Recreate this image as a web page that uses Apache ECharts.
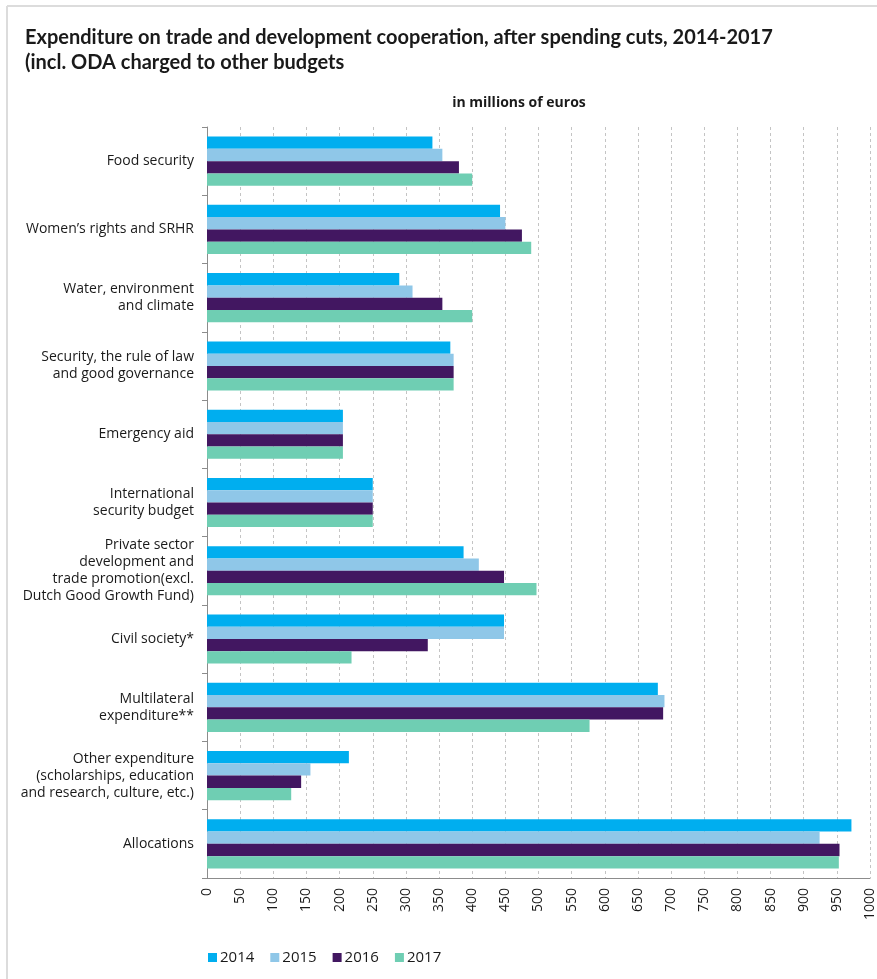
<!DOCTYPE html>
<html>
<head>
<meta charset="utf-8">
<script src="https://cdn.jsdelivr.net/npm/echarts@6/dist/echarts.min.js"></script>
<style>
html,body{margin:0;padding:0;background:#fff;}
#chart{width:877px;height:979px;}
</style>
</head>
<body>
<div id="chart"></div>
<script>
const categories = [
  "Food security",
  "Women\u2019s rights and SRHR",
  "Water, environment\nand climate",
  "Security, the rule of law\nand good governance",
  "Emergency aid",
  "International\nsecurity budget",
  "Private sector\ndevelopment and\ntrade promotion(excl.\nDutch Good Growth Fund)",
  "Civil society*",
  "Multilateral\nexpenditure**",
  "Other expenditure\n(scholarships, education\nand research, culture, etc.)",
  "Allocations"
];
const years = ["2014", "2015", "2016", "2017"];
const values2014 = [340, 442, 290, 367, 205, 250, 387, 448, 680, 214, 972];
const values2015 = [355, 450, 310, 372, 205, 250, 410, 448, 690, 156, 924];
const values2016 = [380, 475, 355, 372, 205, 250, 448, 333, 688, 142, 954];
const values2017 = [400, 489, 400, 372, 205, 250, 497, 218, 577, 127, 953];
const xTicks = [0, 1000, 50];
const colors = ["#00AEEF", "#8FC7E8", "#421761", "#6FCEB3"];

const seriesData = [values2014, values2015, values2016, values2017];
const FONT = "Open Sans";

const chart = echarts.init(document.getElementById('chart'));
chart.setOption({
  animation: false,
  backgroundColor: '#fff',
  textStyle: { fontFamily: FONT },
  title: [
    {
      text: "Expenditure on trade and development cooperation, after spending cuts, 2014-2017\n(incl. ODA charged to other budgets",
      left: 20, top: 20,
      textStyle: { fontFamily: 'Lato', fontSize: 20, fontWeight: 'bold', color: '#1a1a1a', lineHeight: 25 }
    },
    {
      text: "in millions of euros",
      left: 514, top: 91, textAlign: 'center',
      textStyle: { fontFamily: FONT, fontSize: 14, fontWeight: 'bold', color: '#1a1a1a' }
    }
  ],
  graphic: [
    { type: 'line', shape: { x1: 7, y1: 6, x2: 877, y2: 6 }, style: { stroke: '#dcdcdc', lineWidth: 2 } },
    { type: 'line', shape: { x1: 7, y1: 6, x2: 7, y2: 979 }, style: { stroke: '#dcdcdc', lineWidth: 2 } }
  ],
  legend: {
    left: 203, top: 945,
    itemWidth: 9, itemHeight: 9, itemGap: 16,
    icon: 'rect',
    textStyle: { fontFamily: FONT, fontSize: 15, color: '#1a1a1a', padding: [0, 0, 0, -2] },
    data: years
  },
  grid: { left: 207, right: 3, top: 127, bottom: 101, containLabel: false },
  xAxis: {
    type: 'value',
    min: xTicks[0], max: xTicks[1], interval: xTicks[2],
    axisLine: { show: true, lineStyle: { color: '#8c8c8c', width: 1 } },
    axisTick: { show: false },
    axisLabel: { rotate: 90, margin: 10, fontFamily: FONT, fontSize: 14, color: '#1a1a1a', showMaxLabel: true,
      formatter: v => String(v) },
    splitLine: { show: true, lineStyle: { color: '#c4c4c4', type: [3, 3], width: 1 } }
  },
  yAxis: {
    type: 'category',
    inverse: true,
    data: categories,
    axisLine: { show: true, lineStyle: { color: '#8c8c8c', width: 1 } },
    axisTick: { show: true, length: 5, lineStyle: { color: '#8c8c8c' } },
    axisLabel: { margin: 13, fontFamily: FONT, fontSize: 14, color: '#1a1a1a', lineHeight: 17, align: 'right' }
  },
  series: years.map((y, i) => ({
    name: y,
    type: 'bar',
    data: seriesData[i],
    itemStyle: { color: colors[i] },
    barGap: '0%',
    barCategoryGap: '28%'
  }))
});
</script>
</body>
</html>
